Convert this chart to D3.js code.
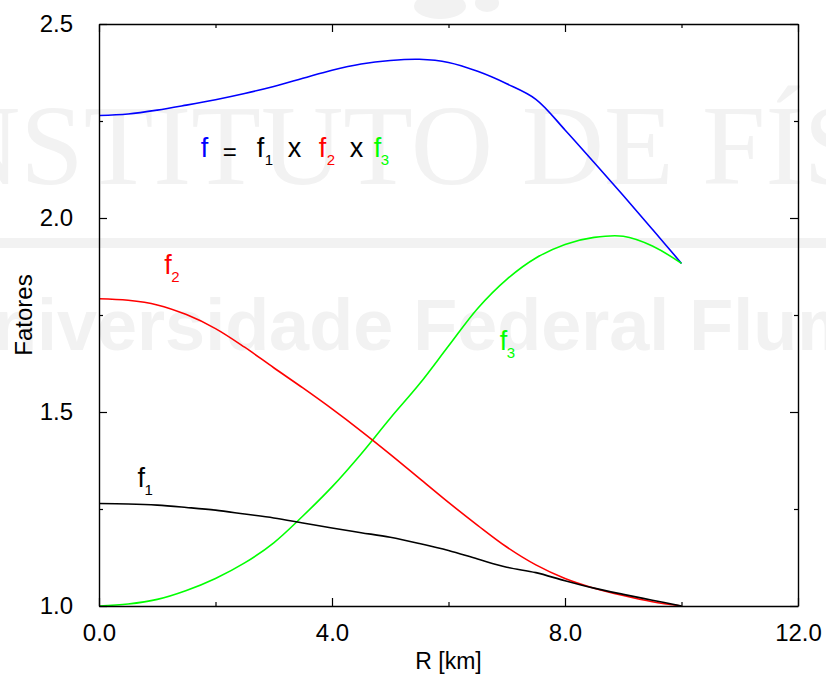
<!DOCTYPE html>
<html>
<head>
<meta charset="utf-8">
<script src="https://cdn.jsdelivr.net/npm/d3@7"></script>
<style>
  html, body { margin: 0; padding: 0; background: #fff; }
  svg text { font-family: "Liberation Sans", Arial, Helvetica, sans-serif; }
</style>
</head>
<body>
<svg id="chart" width="826" height="674"></svg>
<script>
// ---- data ----
const radius = [0,0.5,1,1.5,2,2.5,3,3.5,4,4.5,5,5.5,6,6.5,7,7.5,8,8.5,9,9.5,10];
const fTotal = [2.264,2.268,2.278,2.291,2.305,2.321,2.339,2.360,2.381,2.397,2.406,2.409,2.401,2.378,2.346,2.306,2.227,2.143,2.058,1.971,1.883];
const f1 = [1.264,1.263,1.260,1.254,1.247,1.237,1.227,1.214,1.201,1.189,1.177,1.161,1.143,1.121,1.100,1.086,1.065,1.046,1.030,1.015,1.000];
const f2 = [1.792,1.788,1.776,1.751,1.715,1.667,1.614,1.562,1.508,1.451,1.391,1.329,1.267,1.208,1.152,1.106,1.071,1.046,1.027,1.011,1.000];
const f3 = [1.000,1.005,1.017,1.040,1.071,1.111,1.163,1.232,1.307,1.392,1.484,1.572,1.670,1.767,1.842,1.897,1.932,1.950,1.953,1.928,1.883];

const xMajorTicks = [0, 4, 8, 12];
const xMinorTicks = [2, 6, 10];
const yMajorTicks = [1.0, 1.5, 2.0, 2.5];
const yMinorTicks = [1.25, 1.75, 2.25];
const xLabel = "R [km]";
const yLabel = "Fatores";

const series = [
  {name: "f",  values: fTotal, color: "#0000ff"},
  {name: "f3", values: f3,     color: "#00ff00"},
  {name: "f2", values: f2,     color: "#ff0000"},
  {name: "f1", values: f1,     color: "#000000"}
];

// ---- layout ----
const svg = d3.select("#chart");
const W = 826, H = 674;
const m = {left: 99, right: 28, top: 24, bottom: 68};
const x = d3.scaleLinear().domain([0, 12]).range([m.left, W - m.right]);
const y = d3.scaleLinear().domain([1.0, 2.5]).range([H - m.bottom, m.top]);

// ---- faint watermark ----
const wm = svg.append("g").attr("fill", "#f2f2f2");
wm.append("text").attr("x", -100).attr("y", 184)
  .style("font-family", "'Liberation Serif', 'Times New Roman', serif")
  .style("font-size", "114px").text("INSTITUTO DE FÍSICA");
wm.append("rect").attr("x", 0).attr("y", 238).attr("width", W).attr("height", 10);
wm.append("text").attr("x", -59).attr("y", 350)
  .style("font-size", "72px").style("font-weight", "bold")
  .text("Universidade Federal Fluminense");
wm.append("ellipse").attr("cx", 440).attr("cy", 6).attr("rx", 26).attr("ry", 13);
wm.append("ellipse").attr("cx", 487).attr("cy", 3).attr("rx", 12).attr("ry", 9);

// ---- curves ----
const line = d3.line()
  .x((d, i) => x(radius[i]))
  .y(d => y(d))
  .curve(d3.curveCatmullRom.alpha(0.5));

svg.append("g").selectAll("path").data(series).join("path")
  .attr("d", d => line(d.values))
  .attr("fill", "none")
  .attr("stroke", d => d.color)
  .attr("stroke-width", 1.6);

// ---- axes (ticks inward on all four sides) ----
const axisStyle = g => {
  g.select(".domain").attr("stroke", "#000").attr("stroke-width", 1.4);
  g.selectAll(".tick line").attr("stroke", "#000").attr("stroke-width", 1.2);
};
const fmt = d3.format(".1f");

svg.append("g").attr("transform", `translate(0,${y(1.0)})`)
  .call(d3.axisBottom(x).tickValues(xMajorTicks).tickSizeInner(-8).tickSizeOuter(0).tickPadding(18).tickFormat(fmt))
  .call(axisStyle)
  .call(g => g.selectAll("text").attr("fill", "#000").style("font-size", "24px"));
svg.append("g").attr("transform", `translate(0,${y(1.0)})`)
  .call(d3.axisBottom(x).tickValues(xMinorTicks).tickSizeInner(-4).tickSizeOuter(0).tickFormat(""))
  .call(axisStyle).call(g => g.select(".domain").remove());
svg.append("g").attr("transform", `translate(0,${y(2.5)})`)
  .call(d3.axisTop(x).tickValues(xMajorTicks).tickSizeInner(-8).tickSizeOuter(0).tickFormat(""))
  .call(axisStyle);
svg.append("g").attr("transform", `translate(0,${y(2.5)})`)
  .call(d3.axisTop(x).tickValues(xMinorTicks).tickSizeInner(-4).tickSizeOuter(0).tickFormat(""))
  .call(axisStyle).call(g => g.select(".domain").remove());
svg.append("g").attr("transform", `translate(${x(0)},0)`)
  .call(d3.axisLeft(y).tickValues(yMajorTicks).tickSizeInner(-8).tickSizeOuter(0).tickPadding(26).tickFormat(fmt))
  .call(axisStyle)
  .call(g => g.selectAll("text").attr("fill", "#000").style("font-size", "24px"));
svg.append("g").attr("transform", `translate(${x(0)},0)`)
  .call(d3.axisLeft(y).tickValues(yMinorTicks).tickSizeInner(-4).tickSizeOuter(0).tickFormat(""))
  .call(axisStyle).call(g => g.select(".domain").remove());
svg.append("g").attr("transform", `translate(${x(12)},0)`)
  .call(d3.axisRight(y).tickValues(yMajorTicks).tickSizeInner(-8).tickSizeOuter(0).tickFormat(""))
  .call(axisStyle);
svg.append("g").attr("transform", `translate(${x(12)},0)`)
  .call(d3.axisRight(y).tickValues(yMinorTicks).tickSizeInner(-4).tickSizeOuter(0).tickFormat(""))
  .call(axisStyle).call(g => g.select(".domain").remove());

// ---- axis titles ----
svg.append("text").attr("x", (x(0) + x(12)) / 2).attr("y", 669)
  .attr("text-anchor", "middle").style("font-size", "23px").attr("fill", "#000").text(xLabel);
svg.append("text")
  .attr("transform", `translate(32,${(y(1.0) + y(2.5)) / 2}) rotate(-90)`)
  .attr("text-anchor", "middle").style("font-size", "24px").attr("fill", "#000").text(yLabel);

// ---- annotations (anchored in data coordinates) ----
// parts: text, colour, horizontal offset from anchor (px), subscript flag
function label(r, v, parts) {
  const x0 = x(r), y0 = y(v);
  const g = svg.append("g");
  parts.forEach(p => {
    g.append("text")
      .attr("x", x0 + p.off)
      .attr("y", y0 + (p.sub ? 8 : 0) + (p.dy || 0))
      .attr("fill", p.c)
      .style("font-size", p.sub ? "15px" : (p.size || "27px"))
      .text(p.t);
  });
}
label(1.746, 2.157, [
  {t: "f", c: "#0000ff", off: 0},
  {t: "=", c: "#000", off: 22, size: "24px", dy: 3},
  {t: "f", c: "#000", off: 56},
  {t: "1", c: "#000", off: 64, sub: true},
  {t: "x", c: "#000", off: 87},
  {t: "f", c: "#ff0000", off: 118},
  {t: "2", c: "#ff0000", off: 126, sub: true},
  {t: "x", c: "#000", off: 149},
  {t: "f", c: "#00ff00", off: 173},
  {t: "3", c: "#00ff00", off: 180, sub: true}
]);
label(1.12, 1.855, [{t: "f", c: "#ff0000", off: 0}, {t: "2", c: "#ff0000", off: 7, sub: true}]);
label(0.66, 1.307, [{t: "f", c: "#000", off: 0}, {t: "1", c: "#000", off: 7, sub: true}]);
label(6.88, 1.660, [{t: "f", c: "#00ff00", off: 0}, {t: "3", c: "#00ff00", off: 7, sub: true}]);
</script>
</body>
</html>
